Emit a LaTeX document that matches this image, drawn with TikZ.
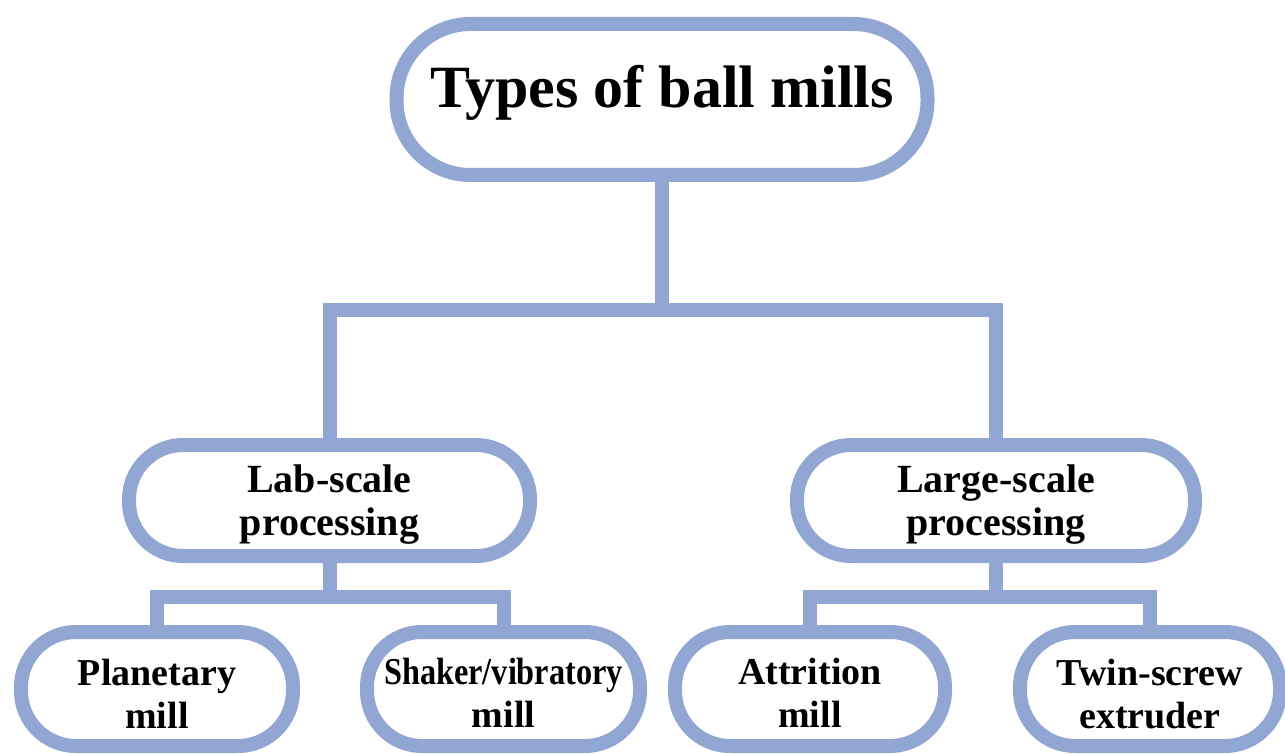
\documentclass[tikz,border=0pt]{standalone}
\usepackage{fontspec}
\usepackage{graphicx}
\setmainfont{Liberation Serif}
\definecolor{millblue}{RGB}{145,166,210}
\tikzset{
  millbox/.style={draw=millblue, line width=14pt, fill=white, rounded corners=#1, align=center, font=\bfseries, inner sep=0pt},
  millbox/.default=55pt,
  conn/.style={draw=millblue, line width=14pt, line join=miter}
}

\begin{document}
\begin{tikzpicture}[x=1pt, y=-1pt]
                \path[fill=white, use as bounding box] (0,0) rectangle (1285,754);
                % top level
                \node[millbox=74pt, minimum width=531pt, minimum height=151pt, font=\bfseries\fontsize{60}{60}\selectfont, text height=41pt, text depth=24pt] (top) at (662,99.5) {Types of ball mills};
                % middle level
                \node[millbox=54pt, minimum width=401pt, minimum height=111pt, font=\bfseries\fontsize{40}{43}\selectfont, text height=78pt, text depth=9pt] (lab) at (329.5,500.5) {Lab-scale\\processing};
                \node[millbox=54pt, minimum width=398pt, minimum height=111pt, font=\bfseries\fontsize{40}{43}\selectfont, text height=78pt, text depth=9pt] (large) at (996,500.5) {Large-scale\\processing};
                % bottom level
                \node[millbox, minimum width=272pt, minimum height=114pt, font=\bfseries\fontsize{38}{43}\selectfont, text height=78pt, text depth=0pt] (plan) at (157,689) {Planetary\\mill};
                \node[millbox, minimum width=273pt, minimum height=114pt, font=\bfseries\fontsize{38}{43}\selectfont, text height=76pt, text depth=0pt] (shak) at (503.5,689) {\scalebox{0.85}[1]{Shaker/vibratory}\\mill};
                \node[millbox, minimum width=270pt, minimum height=114pt, font=\bfseries\fontsize{38}{43}\selectfont, text height=76pt, text depth=0pt] (attr) at (810,689) {Attrition\\mill};
                \node[millbox, minimum width=260pt, minimum height=114pt, font=\bfseries\fontsize{38}{43}\selectfont, text height=78pt, text depth=0pt] (twin) at (1150,689) {Twin-screw\\extruder};
                % connectors
                \coordinate (jtop) at (662,310);
                \coordinate (jlab) at (329.5,597);
                \coordinate (jlarge) at (996,597);
                \draw[conn] (top.south) -- (jtop);
                \draw[conn] (lab.north) |- (jtop) -| (large.north);
                \draw[conn] (lab.south) -- (jlab);
                \draw[conn] (plan.north) |- (jlab) -| (shak.north);
                \draw[conn] (large.south) -- (jlarge);
                \draw[conn] (attr.north) |- (jlarge) -| (twin.north);
                \end{tikzpicture}
\end{document}
